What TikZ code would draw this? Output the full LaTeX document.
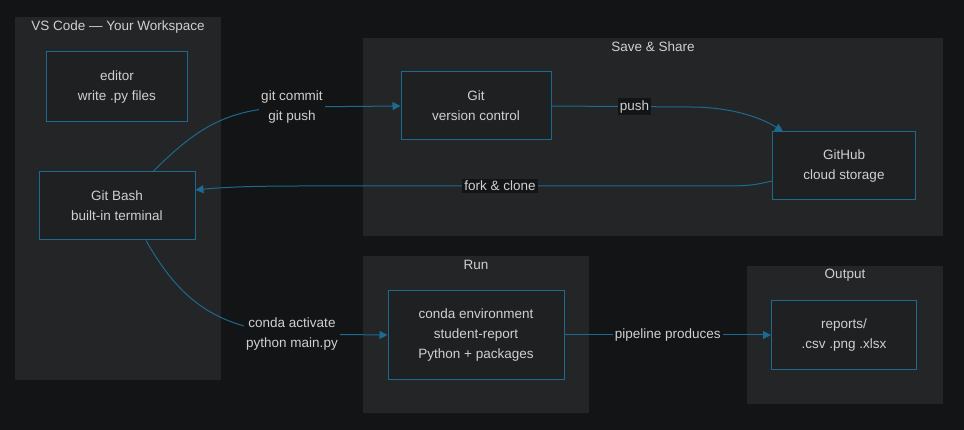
\documentclass[tikz,border=0pt]{standalone}
\usepackage{fontspec}
\setmainfont{Liberation Sans}
\usetikzlibrary{arrows.meta}
\definecolor{bgdark}{HTML}{131416}
\definecolor{clusterfill}{HTML}{242527}
\definecolor{nodefill}{HTML}{1F2022}
\definecolor{edgeblue}{HTML}{1C6A90}
\definecolor{textgrey}{HTML}{D0D0D0}
\begin{document}
\begin{tikzpicture}[x=1pt, y=-1pt, >={Triangle[length=8pt,width=8pt]},
  font=\fontsize{13.5}{20}\selectfont,
  cluster/.style={fill=clusterfill, draw=none},
  title/.style={text=textgrey},
  box/.style={draw=edgeblue, fill=nodefill, line width=1pt, text=textgrey, align=center},
  edge/.style={->, draw=edgeblue, line width=1pt},
  lbl/.style={text=textgrey, align=center, fill=bgdark, inner sep=2pt}]
  \fill[bgdark] (0,0) rectangle (964,430);
  \useasboundingbox (0,0) rectangle (964,430);
  % clusters
  \fill[cluster] (15,17) rectangle (221,380);
  \fill[cluster] (363,38) rectangle (943,236);
  \fill[cluster] (363,256) rectangle (589,413);
  \fill[cluster] (747,266) rectangle (943,404);
  \node[title] (vscode) at (118,27) {VS Code — Your Workspace};
  \node[title] (share) at (653,47) {Save \& Share};
  \node[title] (run) at (476,265) {Run};
  \node[title] (output) at (845,275) {Output};
  % nodes
  \node[box, minimum width=141pt, minimum height=70pt] (editor) at (117,87) {editor\\write .py files};
  \node[box, minimum width=156pt, minimum height=68pt] (bash) at (117,206) {Git Bash\\built-in terminal};
  \node[box, minimum width=150pt, minimum height=68pt] (git) at (476,106) {Git\\version control};
  \node[box, minimum width=143pt, minimum height=68pt] (github) at (844,166) {GitHub\\cloud storage};
  \node[box, minimum width=176pt, minimum height=88pt] (conda) at (476,335) {conda environment\\student-report\\Python + packages};
  \node[box, minimum width=145pt, minimum height=69pt] (reports) at (844,335) {reports/\\.csv .png .xlsx};
  % edges
  \draw[edge] ([xshift=36pt]bash.north) .. controls (195,130) and (225,108) .. (292,107)
    node[lbl] {git commit\\git push} -- (git.west);
  \draw[edge] (git.east) -- (690,107) node[pos=0.6, lbl] {push}
    .. controls (730,107) and (760,117) .. ([xshift=-61pt]github.north);
  \draw[edge] ([yshift=-15pt]github.west) .. controls (750,186) .. (700,186)
    -- node[lbl] {fork \& clone} (300,186) .. controls (240,186) and (215,188) .. ([yshift=16pt]bash.east);
  \draw[edge] ([xshift=29pt]bash.south) .. controls (180,300) and (215,328) .. (292,334)
    node[lbl] {conda activate\\python main.py} -- (conda.west);
  \draw[edge] (conda.east) -- node[lbl] {pipeline produces} (reports.west);
\end{tikzpicture}
\end{document}
